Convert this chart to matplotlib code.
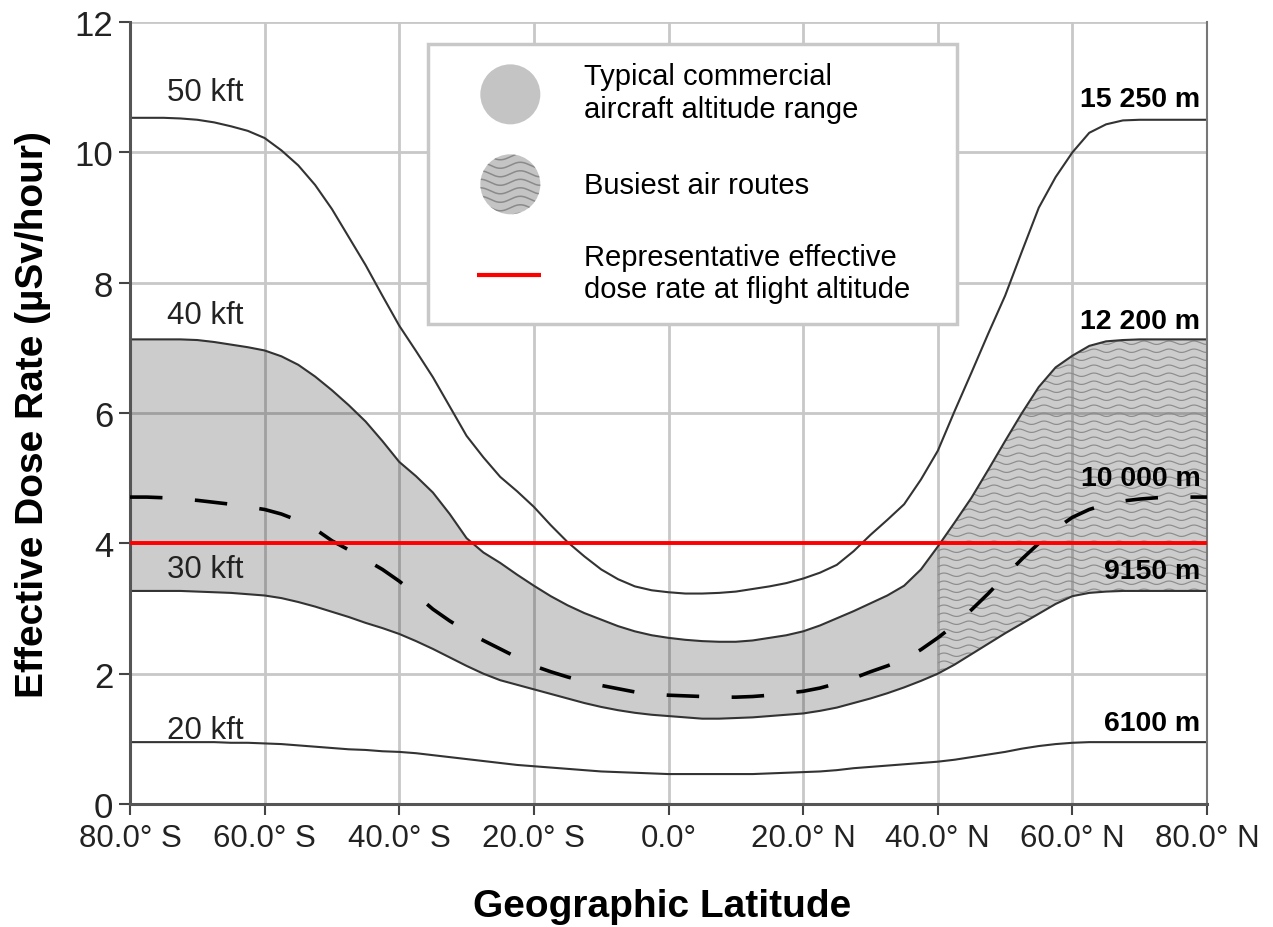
import numpy as np
import matplotlib.pyplot as plt
from matplotlib.patches import Polygon, Rectangle, Ellipse

plt.rcParams['font.family'] = ['Liberation Sans', 'DejaVu Sans']

# latitude grid (deg, negative = south), every 2.5 deg
lat = np.arange(-80, 80.1, 2.5)

# effective dose rate (uSv/hour)
kft50 = [10.53, 10.53, 10.53, 10.52, 10.50, 10.46, 10.40, 10.33, 10.22, 10.03,
         9.80, 9.50, 9.13, 8.70, 8.27, 7.80, 7.34, 6.95, 6.55, 6.10,
         5.65, 5.32, 5.02, 4.80, 4.56, 4.28, 4.02, 3.80, 3.60, 3.45,
         3.34, 3.28, 3.25, 3.23, 3.23, 3.24, 3.26, 3.30, 3.34, 3.39,
         3.46, 3.55, 3.67, 3.88, 4.13, 4.36, 4.60, 4.98, 5.42, 6.03,
         6.62, 7.22, 7.80, 8.48, 9.15, 9.62, 10.00, 10.30, 10.43, 10.49,
         10.50, 10.50, 10.50, 10.50, 10.50]
kft40 = [7.13, 7.13, 7.13, 7.13, 7.12, 7.09, 7.05, 7.01, 6.96, 6.87,
         6.74, 6.56, 6.35, 6.12, 5.87, 5.57, 5.25, 5.03, 4.78, 4.45,
         4.08, 3.86, 3.70, 3.52, 3.35, 3.19, 3.05, 2.93, 2.83, 2.73,
         2.65, 2.59, 2.55, 2.52, 2.50, 2.49, 2.49, 2.51, 2.55, 2.59,
         2.65, 2.74, 2.85, 2.96, 3.08, 3.20, 3.35, 3.60, 3.95, 4.32,
         4.70, 5.13, 5.57, 6.00, 6.40, 6.70, 6.88, 7.03, 7.10, 7.12,
         7.13, 7.13, 7.13, 7.13, 7.13]
kft30 = [3.27, 3.27, 3.27, 3.27, 3.26, 3.25, 3.24, 3.22, 3.20, 3.16,
         3.10, 3.03, 2.95, 2.87, 2.78, 2.70, 2.61, 2.50, 2.38, 2.25,
         2.12, 2.00, 1.90, 1.83, 1.76, 1.69, 1.62, 1.55, 1.49, 1.44,
         1.40, 1.37, 1.35, 1.33, 1.31, 1.31, 1.32, 1.33, 1.35, 1.37,
         1.39, 1.43, 1.48, 1.55, 1.62, 1.70, 1.79, 1.89, 2.00, 2.14,
         2.30, 2.46, 2.62, 2.77, 2.92, 3.07, 3.19, 3.24, 3.26, 3.27,
         3.27, 3.27, 3.27, 3.27, 3.27]
kft20 = [0.95, 0.95, 0.95, 0.95, 0.95, 0.95, 0.94, 0.94, 0.93, 0.92,
         0.90, 0.88, 0.86, 0.84, 0.83, 0.81, 0.80, 0.78, 0.75, 0.72,
         0.69, 0.66, 0.63, 0.60, 0.58, 0.56, 0.54, 0.52, 0.50, 0.49,
         0.48, 0.47, 0.46, 0.46, 0.46, 0.46, 0.46, 0.46, 0.47, 0.48,
         0.49, 0.50, 0.52, 0.55, 0.57, 0.59, 0.61, 0.63, 0.65, 0.68,
         0.72, 0.76, 0.80, 0.85, 0.89, 0.92, 0.94, 0.95, 0.95, 0.95,
         0.95, 0.95, 0.95, 0.95, 0.95]
typical = [4.71, 4.71, 4.70, 4.68, 4.66, 4.63, 4.60, 4.56, 4.52, 4.45,
           4.35, 4.22, 4.04, 3.90, 3.75, 3.60, 3.42, 3.21, 2.99, 2.81,
           2.65, 2.51, 2.38, 2.25, 2.12, 2.03, 1.95, 1.88, 1.82, 1.77,
           1.72, 1.69, 1.67, 1.66, 1.65, 1.64, 1.64, 1.65, 1.67, 1.70,
           1.73, 1.78, 1.85, 1.93, 2.03, 2.12, 2.22, 2.37, 2.55, 2.75,
           2.98, 3.23, 3.50, 3.76, 4.00, 4.22, 4.40, 4.52, 4.60, 4.65,
           4.68, 4.70, 4.71, 4.71, 4.71]
rep_dose = 4.0
busy_start = 40

xticks = [-80, -60, -40, -20, 0, 20, 40, 60, 80]
xticklabels = ['80.0° S', '60.0° S', '40.0° S', '20.0° S', '0.0°',
               '20.0° N', '40.0° N', '60.0° N', '80.0° N']

left_labels = [('50 kft', 10.93), ('40 kft', 7.50), ('30 kft', 3.61), ('20 kft', 1.14)]
right_labels = [('15 250 m', 10.82), ('12 200 m', 7.41), ('10 000 m', 5.00),
                ('9150 m', 3.58), ('6100 m', 1.25)]

fig = plt.figure(figsize=(12.73, 9.28), dpi=100)
ax = fig.add_axes([0.1021, 0.1325, 0.8461, 0.8427])
ax.set_xlim(-80, 80)
ax.set_ylim(0, 12)

# pixels per data unit, used for the wavy hatch and round legend markers
sx = 0.8461 * 1273 / 160
sy = 0.8427 * 928 / 12

ax.set_axisbelow(True)
ax.grid(True, color='#c8c8c8', lw=2.0)

lat_a = np.array(lat)
k30 = np.array(kft30)
k40 = np.array(kft40)
ax.fill_between(lat_a, k30, k40, facecolor='black', alpha=0.2, lw=0, zorder=1)

# busiest routes: wavy hatch clipped to the band north of 40 N
m = lat_a >= busy_start
poly_xy = np.concatenate([np.column_stack([lat_a[m], k40[m]]),
                          np.column_stack([lat_a[m][::-1], k30[m][::-1]])])
clip = Polygon(poly_xy, closed=True, facecolor='none', edgecolor='none')
ax.add_patch(clip)
xx = np.linspace(busy_start - 1, 81, 600)
for y0 in np.arange(1.8, 7.4, 8 / sy):
    yy = y0 + (1.7 / sy) * np.sin(2 * np.pi * (xx - busy_start) * sx / 25)
    ln, = ax.plot(xx, yy, color='#8c8c8c', lw=0.85, zorder=1.2)
    ln.set_clip_path(clip)

for vals in (kft50, kft40, kft30, kft20):
    ax.plot(lat, vals, color='#333333', lw=1.5, zorder=2)
ax.plot(lat, typical, color='black', lw=2.6, dashes=(9, 9), zorder=3)
ax.axhline(rep_dose, color='#ff0000', lw=2.8, zorder=4)

for txt, y in left_labels:
    ax.text(-74.5, y, txt, fontsize=22.5, color='#222222', ha='left', va='center', zorder=5)
for txt, y in right_labels:
    ax.text(79.0, y, txt, fontsize=20.5, fontweight='bold', color='black',
            ha='right', va='center', zorder=5)

# legend box drawn by hand
ax.add_patch(Rectangle((-35.7, 7.37), 78.6, 4.29, facecolor='white',
                       edgecolor='#c8c8c8', lw=2.5, zorder=6))
cx = -23.5
ax.add_patch(Ellipse((cx, 10.89), 60 / sx, 60 / sy, facecolor='#c4c4c4',
                     edgecolor='none', zorder=7))
circ = Ellipse((cx, 9.51), 60 / sx, 60 / sy, facecolor='#c4c4c4',
               edgecolor='none', zorder=7)
ax.add_patch(circ)
xl = np.linspace(cx - 5, cx + 5, 200)
for y0 in np.arange(9.51 - 32 / sy, 9.51 + 34 / sy, 8.5 / sy):
    yl = y0 + (3 / sy) * np.sin(2 * np.pi * (xl - cx) * sx / 40)
    ln, = ax.plot(xl, yl, color='#8a8a8a', lw=1.1, zorder=8)
    ln.set_clip_path(circ)
ax.plot([-28.4, -18.9], [8.12, 8.12], color='#ff0000', lw=3, zorder=8,
        solid_capstyle='butt')
ax.text(-12.5, 10.92, 'Typical commercial\naircraft altitude range', fontsize=21,
        ha='left', va='center', zorder=8)
ax.text(-12.6, 9.50, 'Busiest air routes', fontsize=21, ha='left', va='center', zorder=8)
ax.text(-12.5, 8.15, 'Representative effective\ndose rate at flight altitude',
        fontsize=21, ha='left', va='center', zorder=8)

ax.set_xticks(xticks)
ax.set_xticklabels(xticklabels)
ax.set_yticks(range(0, 13, 2))
ax.tick_params(axis='x', labelsize=22.5, length=8, width=1.5, color='#444444',
               pad=6, labelcolor='#222222')
ax.tick_params(axis='y', labelsize=25, length=8, width=1.5, color='#444444',
               pad=4, labelcolor='#222222')

for s in ('left', 'bottom'):
    ax.spines[s].set_color('#555555')
    ax.spines[s].set_linewidth(2.2)
ax.spines['right'].set_color('#777777')
ax.spines['right'].set_linewidth(1.5)
ax.spines['top'].set_visible(False)

fig.text(662 / 1273, 1 - 907 / 928, 'Geographic Latitude', fontsize=28,
         fontweight='bold', ha='center', va='center')
fig.text(33 / 1273, 1 - 415 / 928, 'Effective Dose Rate (µSv/hour)', fontsize=28,
         fontweight='bold', ha='center', va='center', rotation=90)

fig.savefig('out.png', dpi=100)
